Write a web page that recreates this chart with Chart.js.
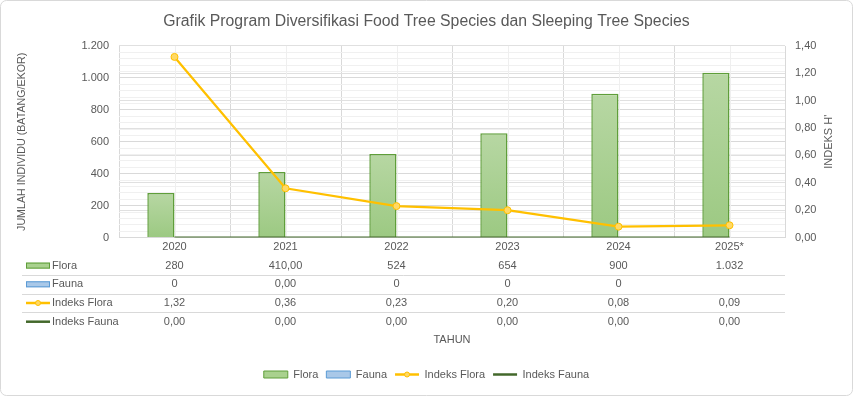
<!DOCTYPE html>
<html>
<head>
<meta charset="utf-8">
<script src="https://cdn.jsdelivr.net/npm/chart.js@4.4.1/dist/chart.umd.min.js"></script>
<style>
  html, body { margin: 0; padding: 0; background: #fff; }
  #wrap { width: 853px; height: 396px; }
</style>
</head>
<body>
<div id="wrap"><canvas id="chart" width="853" height="396"></canvas></div>
<script>
const years = ['2020', '2021', '2022', '2023', '2024', '2025*'];
const flora = [280, 410, 524, 654, 900, 1032];
const fauna = [0, 0, 0, 0, 0, null];
const indeksFlora = [1.32, 0.36, 0.23, 0.20, 0.08, 0.09];
const indeksFauna = [0, 0, 0, 0, 0, 0];

// teks tabel data di bawah sumbu, format seperti di Excel
const floraText = ['280', '410,00', '524', '654', '900', '1.032'];
const faunaText = ['0', '0,00', '0', '0', '0', ''];
const indeksFloraText = ['1,32', '0,36', '0,23', '0,20', '0,08', '0,09'];
const indeksFaunaText = ['0,00', '0,00', '0,00', '0,00', '0,00', '0,00'];

const FONT = "'Liberation Sans', Arial, sans-serif";
const GREY = '#595959';
Chart.defaults.font.family = FONT;
Chart.defaults.color = GREY;

function ribuan(v) {
  return String(v).replace(/\B(?=(\d{3})+(?!\d))/g, '.');
}

// gradasi per batang (atas terang, bawah lebih gelap)
function barGradient(top, bottom) {
  return (c) => {
    const chart = c.chart;
    if (!chart.chartArea || !c.parsed || c.parsed.y == null) return bottom;
    const ys = chart.scales.y;
    const y0 = ys.getPixelForValue(c.parsed.y);
    const y1 = ys.getPixelForValue(0);
    if (!(y1 > y0)) return bottom;
    const g = chart.ctx.createLinearGradient(0, y0, 0, y1);
    g.addColorStop(0, top);
    g.addColorStop(1, bottom);
    return g;
  };
}

function drawKey(ctx, ds, x, y) {
  ctx.save();
  if (ds.type === 'bar') {
    ctx.fillStyle = ds.keyFill;
    ctx.strokeStyle = ds.borderColor;
    ctx.lineWidth = 1;
    ctx.fillRect(x, y - 3, 24, 6);
    ctx.strokeRect(x + 0.5, y - 2.5, 23, 5);
  } else {
    ctx.strokeStyle = ds.borderColor;
    ctx.lineWidth = 2.5;
    ctx.beginPath();
    ctx.moveTo(x, y);
    ctx.lineTo(x + 24, y);
    ctx.stroke();
    if (ds.pointRadius > 0) {
      ctx.beginPath();
      ctx.arc(x + 12, y, 2.5, 0, Math.PI * 2);
      ctx.fillStyle = ds.pointBackgroundColor;
      ctx.fill();
      ctx.lineWidth = 1;
      ctx.stroke();
    }
  }
  ctx.restore();
}

const frame = {
  id: 'frame',
  beforeDraw(chart) {
    const ctx = chart.ctx;
    ctx.save();
    ctx.fillStyle = '#fff';
    ctx.fillRect(0, 0, chart.width, chart.height);
    ctx.strokeStyle = '#d9d9d9';
    ctx.lineWidth = 1;
    ctx.beginPath();
    ctx.roundRect(0.5, 0.5, chart.width - 1, chart.height - 1, 6);
    ctx.stroke();
    ctx.restore();
  },
  beforeDatasetsDraw(chart) {
    // garis bantu tipis di tengah tiap kategori
    const {ctx, chartArea, scales: {x}} = chart;
    ctx.save();
    ctx.strokeStyle = '#efefef';
    ctx.lineWidth = 1;
    years.forEach((_, i) => {
      const px = Math.round(x.getPixelForValue(i)) + 0.5;
      ctx.beginPath();
      ctx.moveTo(px, chartArea.top);
      ctx.lineTo(px, chartArea.bottom);
      ctx.stroke();
    });
    ctx.restore();
  }
};

const dataTable = {
  id: 'dataTable',
  afterDraw(chart) {
    const {ctx, chartArea, scales: {x}} = chart;
    const rowH = 18.7;
    const y0 = chartArea.bottom + 28;
    ctx.save();
    ctx.font = '11px ' + FONT;
    ctx.textBaseline = 'middle';
    chart.data.datasets.forEach((ds, r) => {
      const y = y0 + r * rowH;
      if (r > 0) {
        const ly = Math.round(y - rowH / 2) + 0.5;
        ctx.strokeStyle = '#d9d9d9';
        ctx.lineWidth = 1;
        ctx.beginPath();
        ctx.moveTo(22, ly);
        ctx.lineTo(chartArea.right, ly);
        ctx.stroke();
      }
      drawKey(ctx, ds, 26, y);
      ctx.fillStyle = GREY;
      ctx.textAlign = 'left';
      ctx.fillText(ds.label, 52, y);
      ctx.textAlign = 'center';
      ds.tableText.forEach((t, i) => ctx.fillText(t, x.getPixelForValue(i), y));
    });

    // judul sumbu kanan (dibaca dari bawah ke atas)
    ctx.save();
    ctx.translate(829, (chartArea.top + chartArea.bottom) / 2);
    ctx.rotate(-Math.PI / 2);
    ctx.textAlign = 'center';
    ctx.fillStyle = GREY;
    ctx.fillText("INDEKS H'", 0, 0);
    ctx.restore();

    // penanda bulat pada legenda Indeks Flora
    const legend = chart.legend;
    if (legend && legend.legendHitBoxes) {
      chart.data.datasets.forEach((ds, i) => {
        const hb = legend.legendHitBoxes[i];
        if (!hb || ds.type !== 'line' || !(ds.pointRadius > 0)) return;
        ctx.beginPath();
        ctx.arc(hb.left + 12, hb.top + 5.5, 2.5, 0, Math.PI * 2);
        ctx.fillStyle = ds.pointBackgroundColor;
        ctx.strokeStyle = ds.borderColor;
        ctx.lineWidth = 1;
        ctx.fill();
        ctx.stroke();
      });
    }
    ctx.restore();
  }
};

new Chart(document.getElementById('chart'), {
  data: {
    labels: years,
    datasets: [
      {
        type: 'bar',
        label: 'Flora',
        data: flora,
        tableText: floraText,
        yAxisID: 'y',
        backgroundColor: barGradient('#b7d7a3', '#9cc982'),
        keyFill: '#a9d18e',
        borderColor: '#5f9e3a',
        borderWidth: 1.5,
        categoryPercentage: 0.49,
        barPercentage: 1,
        order: 2
      },
      {
        type: 'bar',
        label: 'Fauna',
        data: fauna,
        tableText: faunaText,
        yAxisID: 'y',
        backgroundColor: barGradient('#bdd7ee', '#9dc3e6'),
        keyFill: '#a9c8e8',
        borderColor: '#5b9bd5',
        borderWidth: 1.5,
        categoryPercentage: 0.49,
        barPercentage: 1,
        order: 2
      },
      {
        type: 'line',
        label: 'Indeks Flora',
        data: indeksFlora,
        tableText: indeksFloraText,
        yAxisID: 'y1',
        borderColor: '#ffc000',
        borderWidth: 2.25,
        pointRadius: 3.5,
        pointBackgroundColor: '#ffd966',
        pointBorderColor: '#ffc000',
        pointBorderWidth: 1,
        tension: 0,
        order: 1
      },
      {
        type: 'line',
        label: 'Indeks Fauna',
        data: indeksFauna,
        tableText: indeksFaunaText,
        yAxisID: 'y1',
        borderColor: '#43682b',
        borderWidth: 2,
        pointRadius: 0,
        tension: 0,
        order: 0
      }
    ]
  },
  options: {
    responsive: false,
    animation: false,
    layout: { padding: { left: 14, right: 14, top: 0, bottom: 6 } },
    scales: {
      x: {
        offset: true,
        grid: { offset: true, color: '#d9d9d9', drawTicks: false },
        border: { color: '#d9d9d9' },
        ticks: { padding: 3, font: { size: 11 }, color: GREY },
        title: {
          display: true,
          text: 'TAHUN',
          font: { size: 11 },
          color: GREY,
          padding: { top: 77, bottom: 14 }
        }
      },
      y: {
        position: 'left',
        min: 0,
        max: 1200,
        afterFit: (s) => { s.width = 105; },
        ticks: {
          stepSize: 40,
          autoSkip: false,
          padding: 10,
          font: { size: 11 },
          color: GREY,
          callback: (v) => (v % 200 === 0 ? ribuan(v) : '')
        },
        grid: {
          drawTicks: false,
          color: (c) => (c.tick && c.tick.value % 200 === 0 ? '#d9d9d9' : '#f0f0f0')
        },
        border: { display: false },
        title: {
          display: true,
          text: 'JUMLAH INDIVIDU (BATANG/EKOR)',
          font: { size: 10.7 },
          color: GREY,
          padding: { top: 2, bottom: 0 }
        }
      },
      y1: {
        position: 'right',
        min: 0,
        max: 1.4,
        afterFit: (s) => { s.width = 54; },
        ticks: {
          stepSize: 0.2,
          padding: 10,
          font: { size: 11 },
          color: GREY,
          callback: (v) => v.toFixed(2).replace('.', ',')
        },
        grid: { drawTicks: false, color: '#e0e0e0' },
        border: { display: false }
      }
    },
    plugins: {
      title: {
        display: true,
        text: 'Grafik Program Diversifikasi Food Tree Species dan Sleeping Tree Species',
        font: { size: 15.8, weight: 'normal' },
        color: GREY,
        padding: { top: 12, bottom: 15 }
      },
      legend: {
        position: 'bottom',
        labels: {
          usePointStyle: true,
          pointStyleWidth: 24,
          boxHeight: 7,
          padding: 8,
          font: { size: 11 },
          color: GREY,
          generateLabels: (chart) => chart.data.datasets.map((ds, i) => ({
            text: ds.label,
            fillStyle: ds.keyFill || ds.borderColor,
            strokeStyle: ds.borderColor,
            lineWidth: ds.type === 'line' ? 2.5 : 1,
            pointStyle: ds.type === 'line' ? 'line' : 'rect',
            fontColor: GREY,
            hidden: false,
            datasetIndex: i
          }))
        }
      },
      tooltip: { enabled: false }
    }
  },
  plugins: [frame, dataTable]
});
</script>
</body>
</html>
